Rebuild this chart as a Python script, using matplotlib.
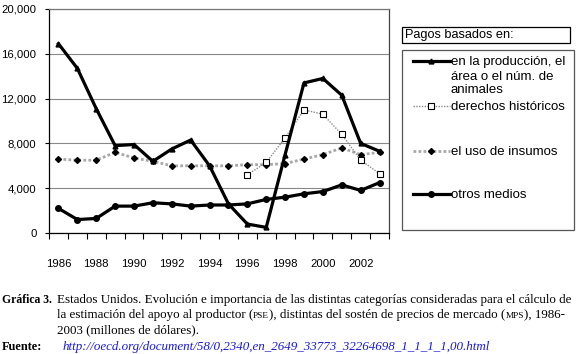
import numpy as np
import matplotlib
matplotlib.use("Agg")
import matplotlib.pyplot as plt
from matplotlib.patches import Rectangle
from matplotlib.ticker import FuncFormatter

# data (millones de dolares)
years = list(range(1986, 2004))
produccion = [16900, 14700, 11100, 7800, 7900, 6400, 7500, 8300, 6000, 2600,
              800, 500, 7000, 13400, 13800, 12300, 8000, 7300]
historicos = [np.nan] * 10 + [5200, 6300, 8500, 11000, 10600, 8800, 6500, 5300]
insumos = [6600, 6500, 6500, 7200, 6700, 6400, 6000, 6000, 6000, 6000,
           6100, 6100, 6200, 6600, 7000, 7600, 7000, 7200]
otros = [2200, 1200, 1300, 2400, 2400, 2700, 2600, 2400, 2500, 2500,
         2600, 3000, 3200, 3500, 3700, 4300, 3800, 4500]

labels = ["en la producción, el", "derechos históricos", "el uso de insumos", "otros medios"]
label_extra = "área o el núm. de\nanimales"
yticks = [0, 4000, 8000, 12000, 16000, 20000]

W, H = 581, 354
sans = "Liberation Sans"
serif = "Liberation Serif"


def fx(px):
    return px / W


def fy(py):
    return 1 - py / H


fig = plt.figure(figsize=(W / 100, H / 100), dpi=100)
ax = fig.add_axes([fx(49), fy(233), fx(389) - fx(49), fy(9) - fy(233)])

x = np.arange(len(years))
lA, = ax.plot(x, produccion, color="black", lw=2.3, marker="^", ms=3.5, zorder=5)
lB, = ax.plot(x, historicos, color="#8a8a8a", lw=1.0, ls=(0, (1, 1)), marker="s",
              ms=4, mfc="white", mec="black", mew=0.8, zorder=4)
lC, = ax.plot(x, insumos, color="#a8a8a8", lw=2.0, ls=(0, (1, 0.8)), marker="D",
              ms=3, mfc="black", mec="black", zorder=3)
lD, = ax.plot(x, otros, color="black", lw=2.3, marker="o", ms=4, zorder=4)

ax.set_xlim(-0.5, len(years) - 0.5)
ax.set_ylim(0, 20000)
ax.set_yticks(yticks)
ax.yaxis.set_major_formatter(FuncFormatter(lambda v, p: f"{int(v):,}"))
ax.grid(axis="y", color="#888888", lw=0.8)
ax.set_axisbelow(True)

ax.set_xticks(x[::2])
ax.set_xticklabels([str(y) for y in years[::2]])
ax.set_xticks(np.arange(-0.5, len(years)), minor=True)
ax.tick_params(axis="x", which="major", length=0, pad=19)
ax.tick_params(axis="x", which="minor", length=4, direction="out", width=0.8)
ax.tick_params(axis="y", length=3, direction="out", width=0.8, pad=6)
for t in ax.get_xticklabels() + ax.get_yticklabels():
    t.set_fontfamily(sans)
    t.set_fontsize(8.2)

for s in ax.spines.values():
    s.set_linewidth(0.9)
ax.spines["top"].set_color("#777777")
ax.spines["right"].set_color("#444444")

# legend boxes
fig.patches.append(Rectangle((fx(402), fy(43)), fx(570) - fx(402), fy(27) - fy(43),
                             transform=fig.transFigure, fill=False, lw=0.9, ec="black"))
fig.text(fx(405), fy(35), "Pagos basados en:", family=sans, fontsize=9.2, va="center")
fig.patches.append(Rectangle((fx(402), fy(230)), fx(574) - fx(402), fy(50) - fy(230),
                             transform=fig.transFigure, fill=False, lw=0.9, ec="#555555"))

renderer = fig.canvas.get_renderer()
lfs = 9.5
entry_y = [56, 101, 146, 189]
legs = []
for line, lab, yy in zip([lA, lB, lC, lD], labels, entry_y):
    leg = fig.legend(handles=[line], labels=[lab], loc="upper left",
                     bbox_to_anchor=(fx(413), fy(yy)), frameon=False, borderpad=0,
                     handlelength=2.8, handletextpad=0.05, borderaxespad=0,
                     prop={"family": sans, "size": lfs})
    legs.append(leg)

# continuation lines of the first legend label
fig.canvas.draw()
bb = legs[0].get_texts()[0].get_window_extent(renderer)
fig.text(bb.x0 / W, (bb.y0 - 3) / H, label_extra, family=sans, fontsize=lfs,
         va="top", ha="left", linespacing=1.1)


# caption
def row(pieces, x0, y0):
    xp = x0
    for txt, kw in pieces:
        t = fig.text(fx(xp), fy(y0), txt, family=serif, va="baseline", **kw)
        bb = t.get_window_extent(renderer)
        xp += bb.width


fs = 9.35
row([("Gráfica 3.", {"fontsize": 8.4, "weight": "bold"})], 2, 303)
row([("Estados Unidos. Evolución e importancia de las distintas categorías consideradas para el cálculo de",
      {"fontsize": fs})], 57, 303)
row([("la estimación del apoyo al productor (", {"fontsize": fs}),
     ("PSE", {"fontsize": 6.7}),
     ("), distintas del sostén de precios de mercado (", {"fontsize": fs}),
     ("MPS", {"fontsize": 6.7}),
     ("), 1986-", {"fontsize": fs})], 57, 318)
row([("2003 (millones de dólares).", {"fontsize": fs})], 57, 333)
row([("Fuente:", {"fontsize": 8.8, "weight": "bold"})], 2, 350)
row([("http://oecd.org/document/58/0,2340,en_2649_33773_32264698_1_1_1_1,00.html",
      {"fontsize": fs, "style": "italic", "color": "#1a1ad0"})], 63, 350)

fig.savefig("out.png", dpi=100)
